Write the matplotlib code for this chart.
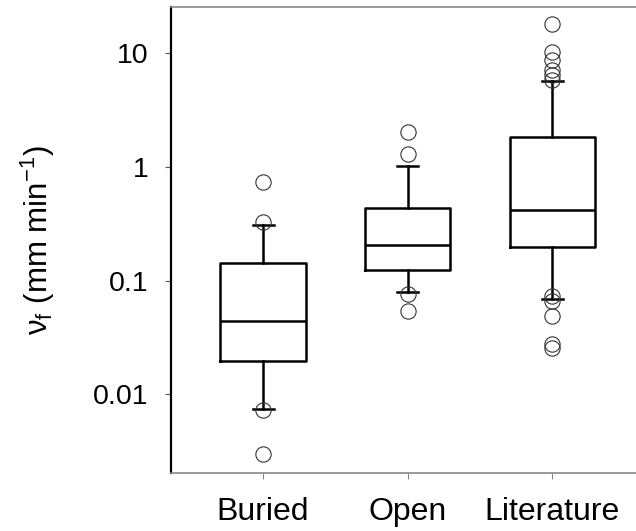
import numpy as np
import matplotlib.pyplot as plt

# values (mm/min)
groups = ['Buried', 'Open', 'Literature']
whislo = [0.0075, 0.080, 0.0696]
q1 = [0.0197, 0.125, 0.197]
med = [0.044, 0.206, 0.42]
q3 = [0.142, 0.44, 1.85]
whishi = [0.312, 1.03, 5.73]
fliers_buried = [0.735, 0.327, 0.0073, 0.0030]
fliers_open = [2.01, 1.31, 0.077, 0.054]
fliers_lit = [18.2, 10.3, 8.8, 7.1, 6.4, 5.8, 0.073, 0.067, 0.0487, 0.028, 0.0256]
yticks = [0.01, 0.1, 1, 10]
yticklabels = ['0.01', '0.1', '1', '10']

plt.rcParams['font.family'] = ['Liberation Sans', 'DejaVu Sans']
plt.rcParams['mathtext.fontset'] = 'custom'
plt.rcParams['mathtext.rm'] = 'Liberation Sans'
plt.rcParams['mathtext.it'] = 'Liberation Sans:italic'

stats = []
for i, name in enumerate(groups):
    stats.append({'label': name, 'whislo': whislo[i], 'q1': q1[i], 'med': med[i],
                  'q3': q3[i], 'whishi': whishi[i],
                  'fliers': [fliers_buried, fliers_open, fliers_lit][i]})

fig = plt.figure(figsize=(6.36, 5.31), dpi=100)
ax = fig.add_axes([0.2689, 0.1083, 0.7311, 0.8789])
ax.set_yscale('log')

lw = 1.8
ax.bxp(stats, positions=[1, 2, 3], widths=0.59, capwidths=0.145,
       boxprops=dict(color='black', linewidth=lw),
       medianprops=dict(color='black', linewidth=lw),
       whiskerprops=dict(color='black', linewidth=lw),
       capprops=dict(color='black', linewidth=lw),
       flierprops=dict(marker='o', markersize=11, markerfacecolor='none',
                       markeredgecolor='#333333', markeredgewidth=0.8))

ax.set_xlim(0.363, 3.58)
ax.set_ylim(0.00202, 25.6)
ax.set_yticks(yticks)
ax.set_yticklabels(yticklabels)
ax.yaxis.set_minor_locator(plt.NullLocator())
ax.set_xticks([1, 2, 3])
ax.set_xticklabels(groups)

ax.tick_params(axis='y', labelsize=20.5, length=4.3, width=0.8, color='#555555', pad=12)
ax.tick_params(axis='x', labelsize=23, length=4, width=0.8, color='#888888', pad=13)

ax.spines['right'].set_visible(False)
ax.spines['left'].set_color('black')
ax.spines['left'].set_linewidth(1.6)
for s in ['top', 'bottom']:
    ax.spines[s].set_color('#888888')
    ax.spines[s].set_linewidth(1.2)

ax.set_ylabel('$\\mathrm{\u03bd}_\\mathrm{f}$ (mm min$^{-1}$)', fontsize=22.5)
ax.yaxis.set_label_coords(-0.245, 0.5)

fig.savefig('out.png', dpi=100)
